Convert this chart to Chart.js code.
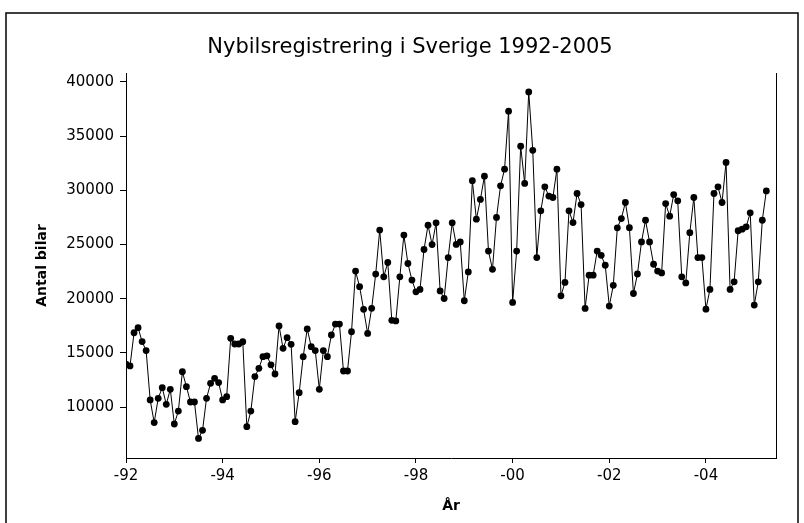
<!DOCTYPE html>
<html><head><meta charset="utf-8">
<script src="https://cdn.jsdelivr.net/npm/chart.js@4/dist/chart.umd.min.js"></script>
<style>html,body{margin:0;padding:0;background:#fff;}#wrap{width:804px;height:523px;}</style>
</head><body><div id="wrap"><canvas id="c" width="804" height="523"></canvas></div>
<script>
const chartTitle = 'Nybilsregistrering i Sverige 1992-2005';
const xTitle = 'År';
const yTitle = 'Antal bilar';
const startYear = 1992;
// monthly registrations, Jan 1992 - Apr 2005
const monthlyValues = [
  13950, 13800, 16860, 17330, 16040, 15210, 10660, 8570, 10810, 11790, 10250, 11640,
  8440, 9630, 13260, 11880, 10470, 10470, 7110, 7850, 10810, 12190, 12650, 12260,
  10660, 10960, 16340, 15820, 15820, 16030, 8190, 9630, 12810, 13580, 14650, 14730,
  13900, 13050, 17490, 15420, 16400, 15790, 8650, 11330, 14650, 17210, 15570, 15210,
  11640, 15210, 14650, 16650, 17660, 17660, 13330, 13330, 16950, 22550, 21110, 19020,
  16800, 19110, 22270, 26330, 22020, 23340, 18010, 17950, 22020, 25870, 23250, 21720,
  20640, 20860, 24540, 26790, 25000, 27000, 20720, 20020, 23800, 27000, 25010, 25240,
  19810, 22470, 30890, 27340, 29160, 31310, 24400, 22710, 27500, 30420, 31950, 37310,
  19660, 24400, 34080, 30640, 39080, 33690, 23800, 28110, 30330, 29470, 29340, 31950,
  20270, 21500, 28110, 27030, 29710, 28690, 19100, 22170, 22170, 24400, 24000, 23090,
  19320, 21240, 26540, 27400, 28880, 26560, 20480, 22280, 25240, 27240, 25240, 23180,
  22550, 22380, 28780, 27620, 29610, 29030, 22020, 21460, 26090, 29340, 23800, 23800,
  19030, 20860, 29710, 30330, 28880, 32580, 20860, 21560, 26270, 26420, 26630, 27930,
  19410, 21560, 27240, 29950
];
const yTickValues = [10000, 15000, 20000, 25000, 30000, 35000, 40000];
const xTickYears = [1992, 1994, 1996, 1998, 2000, 2002, 2004];
const xTickLabels = ['-92', '-94', '-96', '-98', '-00', '-02', '-04'];

const points = monthlyValues.map((v, i) => ({ x: startYear + i / 12, y: v }));

const FONT = '"DejaVu Sans", Verdana, sans-serif';
Chart.defaults.font.family = FONT;
Chart.defaults.color = '#000';

const decor = {
  id: 'decor',
  beforeDraw(chart) {
    const ctx = chart.ctx;
    ctx.save(); ctx.fillStyle = '#fff'; ctx.fillRect(0, 0, chart.width, chart.height); ctx.restore();
  },
  afterDraw(chart) {
    const ctx = chart.ctx, a = chart.chartArea;
    ctx.save();
    ctx.strokeStyle = '#000';
    ctx.lineWidth = 1;
    ctx.beginPath(); ctx.moveTo(Math.round(a.right) + 0.5, a.top); ctx.lineTo(Math.round(a.right) + 0.5, a.bottom); ctx.stroke();
    ctx.lineWidth = 1.5;
    ctx.strokeRect(6, 13, 792, 540);
    // chart title
    ctx.fillStyle = '#000';
    ctx.font = '21px ' + FONT;
    ctx.textAlign = 'center';
    ctx.textBaseline = 'alphabetic';
    ctx.fillText(chartTitle, 410, 53);
    ctx.restore();
  }
};

new Chart(document.getElementById('c'), {
  type: 'line',
  data: {
    datasets: [{
      data: points,
      borderColor: '#000',
      borderWidth: 1,
      tension: 0,
      pointRadius: 3.4,
      pointBackgroundColor: '#000',
      pointBorderWidth: 0,
      fill: false
    }]
  },
  options: {
    responsive: false,
    animation: false,
    devicePixelRatio: 1,
    layout: { padding: { left: 0, right: 28, top: 73, bottom: 0 } },
    plugins: {
      legend: { display: false },
      tooltip: { enabled: false },
      title: { display: false }
    },
    scales: {
      x: {
        type: 'linear', min: 1992, max: 2005.45,
        afterBuildTicks: s => { s.ticks = xTickYears.map(v => ({ value: v })); },
        afterFit: s => { s.height = 65; },
        ticks: {
          callback: (v, i) => xTickLabels[i],
          font: { size: 15 }, padding: 4, maxRotation: 0, autoSkip: false, color: '#000'
        },
        grid: { display: true, drawOnChartArea: false, drawTicks: true, tickLength: 5, color: '#000' },
        border: { display: true, color: '#000', width: 1 },
        title: { display: true, text: xTitle, color: '#000', font: { size: 14, weight: 'bold' }, padding: { top: 0, bottom: 8 } }
      },
      y: {
        type: 'linear', min: 5300, max: 40830,
        afterBuildTicks: s => { s.ticks = yTickValues.map(v => ({ value: v })); },
        afterFit: s => { s.width = 126; },
        ticks: { callback: v => String(v), font: { size: 15 }, padding: 6, color: '#000' },
        grid: { display: true, drawOnChartArea: false, drawTicks: true, tickLength: 6, color: '#000' },
        border: { display: true, color: '#000', width: 1 },
        title: { display: true, text: yTitle, color: '#000', font: { size: 14, weight: 'bold' }, padding: { top: 34, bottom: 0 } }
      }
    }
  },
  plugins: [decor]
});
</script>
</body></html>
